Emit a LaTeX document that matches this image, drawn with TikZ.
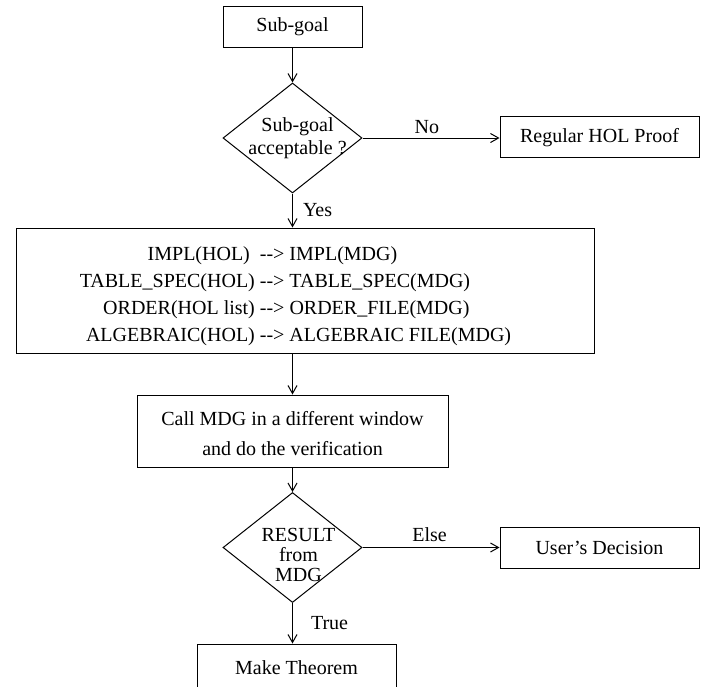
\documentclass[tikz,border=0pt]{standalone}
\usepackage{fontspec}
\setmainfont{Liberation Serif}
\usetikzlibrary{shapes.geometric,arrows.meta}
\begin{document}
\begin{tikzpicture}[x=1pt,y=-1pt,
  box/.style={draw,line width=1pt,inner sep=0pt,font=\fontsize{20}{24}\selectfont},
  dia/.style={draw,shape=diamond,line width=1pt,inner sep=0pt,minimum width=139pt,minimum height=110pt},
  lbl/.style={font=\fontsize{20}{24}\selectfont,inner sep=0pt},
  arr/.style={line width=1pt,-{Straight Barb[length=8pt,width=9pt,line width=1pt]}}]
\useasboundingbox (0,0) rectangle (709,686);
\clip (0,0) rectangle (709,686);
\node[box,minimum width=139pt,minimum height=41pt] (sg) at (292.5,26.5) {Sub-goal};
\node[dia,label={[lbl,font=\fontsize{20}{23}\selectfont,align=center,xshift=5pt]center:Sub-goal\\acceptable ?}] (d1) at (292.5,138) {};
\node[box,minimum width=199pt,minimum height=41pt] (reg) at (599.5,136.5) {\raisebox{-1.5pt}[\height][\depth]{Regular HOL Proof}};
\node[box,minimum width=578pt,minimum height=125pt] (big) at (305,290.5)
  {\hspace*{-19pt}\fontsize{20}{27.3}\selectfont\raisebox{-5pt}[\height][\depth]{\begin{tabular}{@{}r@{ }l@{}}
   IMPL(HOL)\kern5pt & -{}-> IMPL(MDG)\\
   TABLE\_SPEC(HOL) & -{}-> TABLE\_SPEC(MDG)\\
   ORDER(HOL list) & -{}-> ORDER\_FILE(MDG)\\
   ALGEBRAIC(HOL) & -{}-> ALGEBRAIC FILE(MDG)
  \end{tabular}}};
\node[box,minimum width=311pt,minimum height=72pt] (call) at (292.5,431)
  {\fontsize{20}{30}\selectfont\raisebox{-3pt}[\height][\depth]{\begin{tabular}{@{}c@{}}
   Call MDG in a different window\\and do the verification\end{tabular}}};
\node[dia,label={[lbl,font=\fontsize{20}{20}\selectfont,align=center,xshift=6pt,yshift=-7pt]center:RESULT\\from\\MDG}] (d2) at (292.5,547.5) {};
\node[box,minimum width=199pt,minimum height=41pt] (usr) at (599.5,547.5) {User’s Decision};
\node[box,minimum width=199pt,minimum height=48pt] (mt) at (296.5,668) {Make Theorem};
\draw[arr] (sg.south) -- (d1.north);
\draw[arr] (d1.east) -- node[lbl,above=4pt,pos=0.47] {No} (d1.east -| reg.west);
\draw[arr] (d1.south) -- node[lbl,right=10pt] {Yes} (d1.south |- big.north);
\draw[arr] (call.north |- big.south) -- (call.north);
\draw[arr] (call.south) -- (d2.north);
\draw[arr] (d2.east) -- node[lbl,above=5pt,pos=0.49] {Else} (d2.east -| usr.west);
\draw[arr] (d2.south) -- node[lbl,right=18pt] {True} (d2.south |- mt.north);
\end{tikzpicture}
\end{document}
